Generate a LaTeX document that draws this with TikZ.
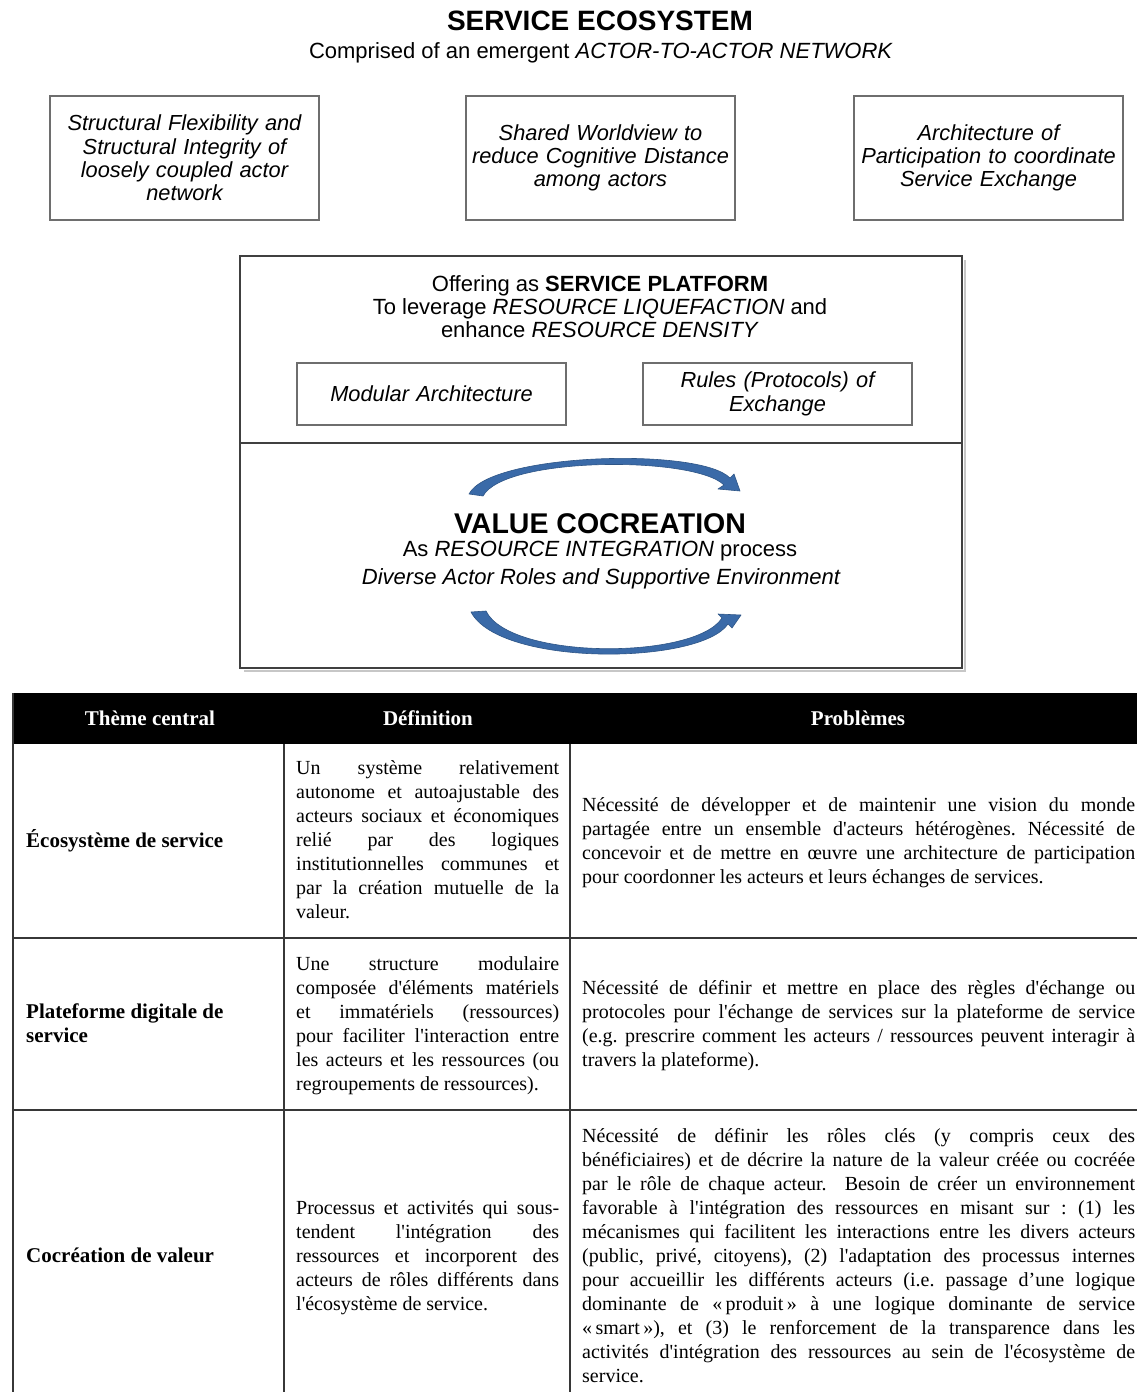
\documentclass[tikz,border=0pt]{standalone}
\usepackage{fontspec}
\usepackage{graphicx}
\setmainfont{Liberation Serif}
\newfontfamily\arial{Liberation Sans}
\usetikzlibrary{arrows.meta}
\definecolor{arrowblue}{RGB}{58,106,168}
\definecolor{tline}{RGB}{55,55,55}
\definecolor{boxgray}{RGB}{110,110,110}
\newcommand\jl[2]{\setbox0\hbox{#2}\ifdim\wd0>#1\relax\resizebox{#1}{\height}{#2}\else\makebox[#1][s]{#2}\fi}
\newcommand\jd[1]{\jl{263pt}{#1}}
\newcommand\jp[1]{\jl{553pt}{#1}}
\newcommand\q{\textquotesingle}
\frenchspacing
\begin{document}
\begin{tikzpicture}[x=1pt,y=-1pt,
  topbox/.style={draw=boxgray, line width=1.3pt, minimum width=269pt, minimum height=124pt, inner sep=0pt},
  innerbox/.style={draw=boxgray, line width=1.3pt, minimum width=269pt, minimum height=62pt, inner sep=0pt},
  itext/.style={font=\arial\itshape\fontsize{21.8}{23.3}\selectfont, align=center, text width=266pt, inner sep=0pt},
  atext/.style={font=\arial\fontsize{22}{23}\selectfont, align=center, inner sep=0pt},
  bigbox/.style={draw=black!75, line width=2.6pt, minimum width=722pt, minimum height=412pt, inner sep=0pt},
  cyc/.style={fill=arrowblue, draw=arrowblue!80!black, line width=0.6pt, line join=round},
  hdr/.style={font=\bfseries\fontsize{21}{24}\selectfont, text=white, inner sep=0pt},
  cell/.style={font=\fontsize{20}{24}\selectfont, align=left, inner sep=0pt, anchor=base west},
  rowtitle/.style={font=\bfseries\fontsize{21}{24}\selectfont, align=left, inner sep=0pt, anchor=base west},
  tl/.style={draw=tline, line width=2pt}
]
\useasboundingbox (0,0) rectangle (1137,1392);
\fill[white] (0,0) rectangle (1137,1392);

% --- title
\node[font=\arial\bfseries\fontsize{28}{32}\selectfont, inner sep=0pt] (title) at (600,21) {SERVICE ECOSYSTEM};
\node[atext] (sub) at (601,53) {Comprised of an emergent \textit{ACTOR-TO-ACTOR NETWORK}};

% --- top boxes
\node[topbox] (b1) at (184.5,158) {};
\node[itext] (t1) at (b1.center) {Structural Flexibility and\\Structural Integrity of\\loosely coupled actor\\network};
\node[topbox] (b2) at (600.5,158) {};
\node[itext] (t2) at (b2.center) {Shared Worldview to\\reduce Cognitive Distance\\among actors};
\node[topbox] (b3) at (988.5,158) {};
\node[itext] (t3) at (b3.center) {Architecture of\\Participation to coordinate\\Service Exchange};

% --- central box
\draw[black!22, line width=2pt] (964.8,260) -- (964.8,670.8) -- (244,670.8);
\node[bigbox] (big) at (601,462) {};
\coordinate (dl) at (240,443);
\coordinate (dr) at (962,443);
\draw[black!75, line width=2pt] (dl) -- (dr);

\node[atext] (plat) at (600,307) {Offering as \textbf{SERVICE PLATFORM}\\To leverage \textit{RESOURCE LIQUEFACTION} and\\enhance \textit{RESOURCE DENSITY}};
\node[innerbox] (mod) at (431.5,394) {};
\node[itext] (modt) at (mod.center) {Modular Architecture};
\node[innerbox] (rul) at (777.5,394) {};
\node[itext] (rult) at (rul.center) {Rules (Protocols) of\\Exchange};

% --- cycle arrows (tapered arcs with small heads)
\coordinate (a1s) at (469,494);
\coordinate (a1e) at (740,491);
\coordinate (a2s) at (471,612);
\coordinate (a2e) at (741,615);
\path[cyc] (a1s) .. controls (490,453) and (700,447) .. (730,478)
  -- (734,474) -- (a1e) -- (718,489) -- (724,485)
  .. controls (695,456) and (505,456) .. (483,496) -- cycle;
\path[cyc] (a2s) .. controls (500,667) and (700,665) .. (728,624)
  -- (732,628) -- (a2e) -- (718,614) -- (722,618)
  .. controls (695,660) and (510,660) .. (486,611) -- cycle;

\node[font=\arial\bfseries\fontsize{28.5}{32}\selectfont, inner sep=0pt] (vc) at (600,524) {VALUE COCREATION};
\node[atext] (vc2) at (600,551) {As \textit{RESOURCE INTEGRATION} process};
\node[atext, font=\arial\itshape\fontsize{22}{23}\selectfont] (vc3) at (601,579) {Diverse Actor Roles and Supportive Environment};

% --- table
\fill[black] (13,693) rectangle (1137,744);
\coordinate (c0t) at (13,693);
\coordinate (c0b) at (13,1392);
\coordinate (c1t) at (284,744);
\coordinate (c1b) at (284,1392);
\coordinate (c2t) at (570,744);
\coordinate (c2b) at (570,1392);
\coordinate (r1l) at (13,938);
\coordinate (r1r) at (1137,938);
\coordinate (r2l) at (13,1110);
\coordinate (r2r) at (1137,1110);
\draw[tl] (c0t) -- (c0b);
\draw[tl] (c1t) -- (c1b);
\draw[tl] (c2t) -- (c2b);
\draw[tl] (r1l) -- (r1r);
\draw[tl] (r2l) -- (r2r);

\node[hdr] (h1) at (150,718) {Thème central};
\node[hdr] (h2) at (428,718) {Définition};
\node[hdr] (h3) at (858,718) {Problèmes};

\node[rowtitle] (rt1) at (26,847) {Écosystème de service};
\node[rowtitle] (rt2) at (26,1042) {Plateforme digitale de\\service};
\node[rowtitle] (rt3) at (26,1262) {Cocréation de valeur};

\node[cell] (d1) at (296,918) {\jd{Un système relativement}\\\jd{autonome et autoajustable des}\\\jd{acteurs sociaux et économiques}\\\jd{relié par des logiques}\\\jd{institutionnelles communes et}\\\jd{par la création mutuelle de la}\\valeur.};
\node[cell] (d2) at (296,1090) {\jd{Une structure modulaire}\\\jd{composée d\q éléments matériels}\\\jd{et immatériels (ressources)}\\\jd{pour faciliter l\q interaction entre}\\\jd{les acteurs et les ressources (ou}\\regroupements de ressources).};
\node[cell] (d3) at (296,1310) {\jd{Processus et activités qui sous-}\\\jd{tendent l\q intégration des}\\\jd{ressources et incorporent des}\\\jd{acteurs de rôles différents dans}\\l\q écosystème de service.};

\node[cell] (p1) at (582,883) {\jp{Nécessité de développer et de maintenir une vision du monde}\\\jp{partagée entre un ensemble d\q acteurs hétérogènes. Nécessité de}\\\jp{concevoir et de mettre en œuvre une architecture de participation}\\pour coordonner les acteurs et leurs échanges de services.};
\node[cell] (p2) at (582,1066) {\jp{Nécessité de définir et mettre en place des règles d\q échange ou}\\\jp{protocoles pour l\q échange de services sur la plateforme de service}\\\jp{(e.g. prescrire comment les acteurs / ressources peuvent interagir à}\\travers la plateforme).};
\node[cell] (p3) at (582,1382) {\jp{Nécessité de définir les rôles clés (y compris ceux des}\\\jp{bénéficiaires) et de décrire la nature de la valeur créée ou cocréée}\\\jp{par le rôle de chaque acteur.\ \ Besoin de créer un environnement}\\\jp{favorable à l\q intégration des ressources en misant sur : (1) les}\\\jp{mécanismes qui facilitent les interactions entre les divers acteurs}\\\jp{(public, privé, citoyens), (2) l\q adaptation des processus internes}\\\jp{pour accueillir les différents acteurs (i.e. passage d’une logique}\\\jp{dominante de «\,produit\,» à une logique dominante de service}\\\jp{«\,smart\,»), et (3) le renforcement de la transparence dans les}\\\jp{activités d\q intégration des ressources au sein de l\q écosystème de}\\service.};
\end{tikzpicture}
\end{document}
